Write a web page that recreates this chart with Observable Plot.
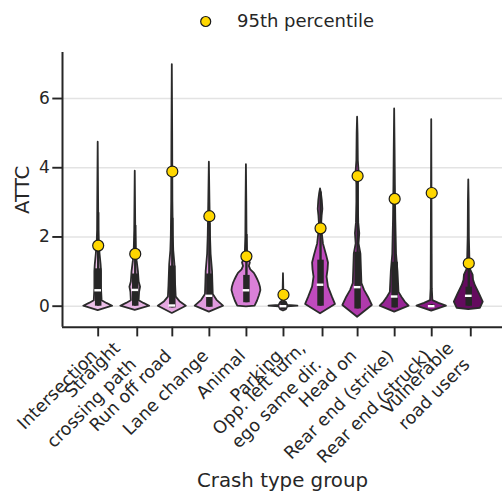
<!DOCTYPE html>
<html><head><meta charset="utf-8">
<script src="https://cdn.jsdelivr.net/npm/d3@7"></script>
<script src="https://cdn.jsdelivr.net/npm/@observablehq/plot@0.6"></script>
<style>
body{margin:0;background:#fff;font-family:"DejaVu Sans",sans-serif;}
#wrap{width:502px;height:491px;position:relative;overflow:hidden;}
#legend{height:40px;}
#chart svg{display:block;}
</style></head><body>
<div id="wrap">
<div id="legend"><svg width="502" height="40"><circle cx="205.7" cy="21.5" r="5" fill="#ffd700" stroke="#1a1a1a" stroke-width="1.2"/><text x="237" y="26.7" font-size="18" fill="#262626" font-family="DejaVu Sans">95th percentile</text></svg></div>
<div id="chart"></div>
</div>
<script>
const categories = ["Intersection","Straight\ncrossing path","Run off road","Lane change","Animal","Parking","Opp. left turn,\nego same dir.","Head on","Rear end (strike)","Rear end (struck)","Vulnerable\nroad users"];
const q1 = [0.0, 0.0, -0.05, -0.03, 0.1, -0.1, 0.0, -0.08, -0.05, -0.03, 0.0];
const medians = [0.46, 0.47, 0.02, 0.3, 0.46, 0.0, 0.62, 0.55, 0.28, 0.0, 0.3];
const q3 = [1.08, 0.93, 1.16, 0.93, 0.89, 0.12, 1.33, 1.56, 1.27, 0.03, 0.55];
const whiskerTop = [2.7, 2.33, 2.54, 2.4, 2.07, 0.45, 3.3, 3.9, 3.2, 0.05, 1.38];
const p95 = [1.75, 1.51, 3.89, 2.60, 1.44, 0.33, 2.25, 3.76, 3.10, 3.27, 1.24];
const colors = ["#ecc0e8","#e6b2e2","#e6a8e2","#e09ade","#da80d8","#cf66cc","#c04abe","#b03aac","#982596","#8a1a86","#640b5e"];
const yTicks = [0, 2, 4, 6];

// violin profiles: [ATTC value, relative density]
const densityIntersection = [[-0.13,0],[0,1],[0.08,0.6],[0.16,0.27],[0.5,0.23],[1.0,0.23],[1.2,0.2],[1.5,0.13],[1.8,0.07],[2.2,0.04],[3.0,0.03],[4.74,0]];
const densityStraight = [[-0.12,0],[0,1],[0.08,0.6],[0.16,0.27],[0.4,0.3],[0.55,0.37],[0.7,0.27],[1.0,0.22],[1.3,0.13],[1.6,0.07],[2.2,0.035],[3.9,0]];
const densityRunOff = [[-0.21,0],[0,0.97],[0.13,0.53],[0.26,0.27],[0.6,0.23],[1.2,0.18],[1.6,0.1],[2.0,0.07],[3.0,0.04],[5.0,0.025],[6.98,0]];
const densityLaneChange = [[-0.17,0],[0,0.98],[0.17,0.53],[0.34,0.27],[0.7,0.24],[1.0,0.22],[1.5,0.12],[2.0,0.08],[3.0,0.04],[4.16,0]];
const densityAnimal = [[-0.02,0],[0,0.6],[0.15,0.77],[0.3,0.9],[0.45,1],[0.55,0.97],[0.65,0.9],[0.75,0.8],[0.85,0.68],[0.95,0.55],[1.05,0.3],[1.15,0.2],[1.25,0.27],[1.35,0.15],[1.5,0.08],[2.0,0.04],[3.0,0.025],[4.09,0]];
const densityParking = [[-0.14,0],[-0.1,0.2],[-0.02,0.3],[0,1],[0.02,0.3],[0.1,0.2],[0.15,0.07],[0.3,0.03],[0.94,0]];
const densityOppLeft = [[-0.22,0],[0.05,1.03],[0.26,0.82],[0.55,0.55],[0.84,0.45],[1.05,0.52],[1.25,0.55],[1.45,0.43],[1.6,0.33],[1.8,0.2],[2.1,0.12],[2.4,0.08],[2.6,0.11],[2.8,0.16],[3.05,0.12],[3.25,0.06],[3.39,0]];
const densityHeadOn = [[-0.32,0],[0.02,1.02],[0.26,0.75],[0.45,0.49],[0.65,0.3],[1.0,0.27],[1.5,0.23],[1.8,0.1],[2.1,0.15],[2.4,0.08],[3.0,0.05],[3.5,0.05],[3.9,0.1],[4.2,0.05],[5.0,0.03],[5.46,0]];
const densityStrike = [[-0.17,0],[0,1],[0.12,0.73],[0.26,0.5],[0.4,0.3],[1.0,0.23],[1.5,0.13],[2.5,0.08],[3.5,0.05],[4.5,0.03],[5.7,0]];
const densityStruck = [[-0.14,0],[0,1.02],[0.08,0.5],[0.16,0.08],[0.5,0.04],[1.5,0.03],[5.39,0]];
const densityVRU = [[-0.1,0],[-0.06,0.8],[0.12,1],[0.36,0.73],[0.6,0.45],[0.75,0.33],[0.9,0.3],[1.05,0.13],[1.3,0.08],[2.0,0.04],[3.0,0.025],[3.65,0]];
const densities = [densityIntersection, densityStraight, densityRunOff, densityLaneChange, densityAnimal, densityParking, densityOppLeft, densityHeadOn, densityStrike, densityStruck, densityVRU];

const rows = densities.flatMap((prof, i) => prof.map(([v, d]) => ({i, v, d})));
const stats = categories.map((c, i) => ({i, q1: q1[i], med: medians[i], q3: q3[i], wt: whiskerTop[i], p: p95[i]}));
const W = 0.39;
const xDomain = [-0.963, 10.91];
const yDomain = [-0.607, 7.33];
const idx = d3.range(categories.length);
const single = idx.filter(i => !categories[i].includes("\n"));
const multi = idx.filter(i => categories[i].includes("\n"));
const ink = "#262626";

const chart = Plot.plot({
  width: 502, height: 451,
  marginTop: 12, marginBottom: 164.3, marginLeft: 62, marginRight: 0,
  style: {fontFamily: "DejaVu Sans", color: ink, background: "white", overflow: "visible"},
  x: {type: "linear", domain: xDomain},
  y: {domain: yDomain},
  color: {type: "identity"},
  marks: [
    Plot.gridY(yTicks, {stroke: "#e3e3e3", strokeOpacity: 1, strokeWidth: 1.5}),
    Plot.areaX(rows, {y: "v", x1: r => r.i - r.d * W, x2: r => r.i + r.d * W, z: "i", fill: r => colors[r.i], stroke: "#2b2b2b", strokeWidth: 1.8, curve: "linear"}),
    Plot.ruleX(stats, {x: "i", y1: "q1", y2: "wt", stroke: ink, strokeWidth: 2.4}),
    Plot.ruleX(stats, {x: "i", y1: "q1", y2: "q3", stroke: ink, strokeWidth: 6.5}),
    Plot.ruleY(stats, {y: "med", x1: d => d.i - 0.09, x2: d => d.i + 0.09, stroke: "white", strokeWidth: 2.4}),
    Plot.dot(stats, {x: "i", y: "p", r: 5.5, fill: "#ffd700", stroke: "#1a1a1a", strokeWidth: 1.2}),
    Plot.axisY(yTicks, {tickSize: 9.7, tickPadding: 3, fontSize: 17, label: null, strokeWidth: 1.9, tickFormat: d3.format("d")}),
    Plot.axisX(single, {tickSize: 9.7, tickPadding: 20, dx: 0, fontSize: 17.5, label: null, strokeWidth: 1.9, tickRotate: -45, textAnchor: "end", lineAnchor: "bottom", tickFormat: i => categories[i]}),
    Plot.axisX(multi, {tickSize: 9.7, tickPadding: 28.6, dx: 2, fontSize: 17.5, label: null, strokeWidth: 1.9, tickRotate: -45, textAnchor: "end", lineAnchor: "bottom", lineHeight: 1.3, tickFormat: i => categories[i]}),
    Plot.ruleX([xDomain[0]], {stroke: ink, strokeWidth: 2}),
    Plot.ruleY([yDomain[0]], {stroke: ink, strokeWidth: 2}),
    Plot.text(["ATTC"], {frameAnchor: "left", rotate: -90, dx: -48, lineAnchor: "top", textAnchor: "middle", fontSize: 19.8, fill: ink}),
    Plot.text(["Crash type group"], {frameAnchor: "bottom", dy: 159.3, lineAnchor: "bottom", textAnchor: "middle", fontSize: 19.8, fill: ink})
  ]
});
document.getElementById("chart").appendChild(chart);
</script>
</body></html>
